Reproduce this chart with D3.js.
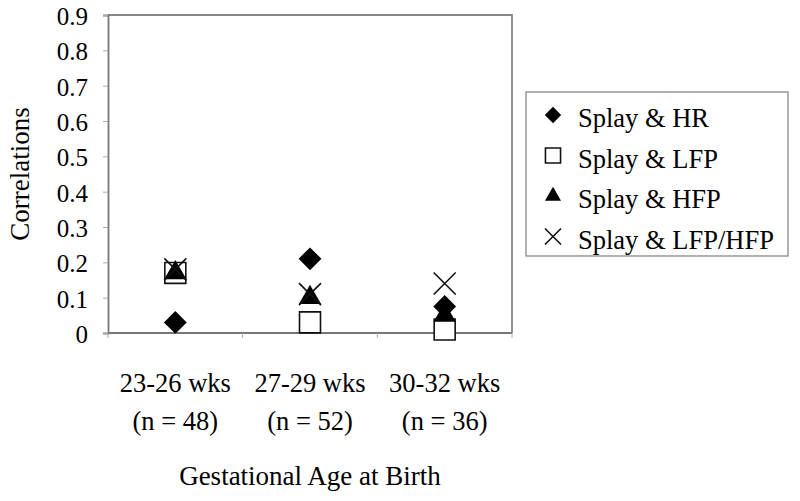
<!DOCTYPE html>
<html>
<head>
<meta charset="utf-8">
<script src="https://cdn.jsdelivr.net/npm/d3@7"></script>
<style>
  body { margin: 0; background: #fff; }
  svg { display: block; }
</style>
</head>
<body>
<div id="chart"></div>
<script>
// values
let categories = ["23-26 wks", "27-29 wks", "30-32 wks"];
let sampleSizes = ["(n = 48)", "(n = 52)", "(n = 36)"];
let seriesNames = ["Splay & HR", "Splay & LFP", "Splay & HFP", "Splay & LFP/HFP"];
let hr = [0.03, 0.21, 0.075];
let lfp = [0.17, 0.03, 0.01];
let hfp = [0.17, 0.10, 0.05];
let lfpHfp = [0.18, 0.11, 0.14];
let yTicks = [0, 0.1, 0.2, 0.3, 0.4, 0.5, 0.6, 0.7, 0.8, 0.9];

let series = [
    {name: seriesNames[0], values: hr, kind: "diamond"},
    {name: seriesNames[1], values: lfp, kind: "square"},
    {name: seriesNames[2], values: hfp, kind: "triangle"},
    {name: seriesNames[3], values: lfpHfp, kind: "times"}
];

let width = 800, height = 501;
let pLeft = 108, pRight = 512, pTop = 15, pBottom = 333;
let serif = '"Liberation Serif", "Times New Roman", serif';

let svg = d3.select("#chart").append("svg")
    .attr("width", width)
    .attr("height", height)
    .attr("font-family", serif);

let x = d3.scaleBand().domain(categories).range([pLeft, pRight]).padding(0);
let y = d3.scaleLinear().domain([0, 0.9]).range([pBottom, pTop]);

// marker shapes, big for the plot and small for the legend
function markerPath(kind, big) {
    let s = big ? 1 : 0.72;
    if (kind == "diamond") return d3.symbol(d3.symbolSquare, 260 * s * s)();
    if (kind == "square") return d3.symbol(d3.symbolSquare, 440 * s * s)();
    if (kind == "triangle") return d3.symbol(d3.symbolTriangle, 215 * s * s)();
    return d3.symbol(d3.symbolTimes, (big ? 318 : 170))();
}

function drawMarker(g, kind, big) {
    let p = g.append("path").attr("d", markerPath(kind, big));
    if (kind == "diamond") p.attr("transform", "rotate(45)").attr("fill", "#000");
    else if (kind == "square") p.attr("fill", "#fff").attr("stroke", "#111").attr("stroke-width", 1.6);
    else if (kind == "triangle") p.attr("fill", "#000");
    else p.attr("fill", "none").attr("stroke", "#111").attr("stroke-width", 1.6);
}

function txt(sel, size) {
    return sel.style("font-family", serif).style("font-size", size + "px").attr("fill", "#000");
}

// frame
svg.append("path")
    .attr("d", `M${pLeft},${pTop}H${pRight}V${pBottom}`)
    .attr("fill", "none")
    .attr("stroke", "#888")
    .attr("stroke-width", 1.8);

// y axis
let yAxis = svg.append("g")
    .attr("transform", `translate(${pLeft},0)`)
    .call(d3.axisLeft(y)
        .tickValues(yTicks)
        .tickSize(5)
        .tickPadding(15)
        .tickFormat(d => d === 0 ? "0" : d3.format(".1f")(d)));
yAxis.attr("font-family", serif);
yAxis.select(".domain").attr("stroke", "#777").attr("stroke-width", 1.8);
yAxis.selectAll(".tick line").attr("stroke", "#aaa");
txt(yAxis.selectAll(".tick text"), 25).attr("dy", "0.38em");

// x axis: line plus ticks at category boundaries
svg.append("line")
    .attr("x1", pLeft).attr("x2", pRight)
    .attr("y1", pBottom).attr("y2", pBottom)
    .attr("stroke", "#777").attr("stroke-width", 1.8);

let bounds = categories.map(c => x(c)).concat([pRight]);
svg.selectAll(".xtick").data(bounds).enter().append("line")
    .attr("class", "xtick")
    .attr("x1", d => d).attr("x2", d => d)
    .attr("y1", pBottom).attr("y2", pBottom + 5)
    .attr("stroke", "#aaa");

let xlab = txt(svg.selectAll(".xlab").data(categories).enter().append("text"), 26.5)
    .attr("class", "xlab")
    .attr("text-anchor", "middle");
xlab.append("tspan")
    .attr("x", d => x(d) + x.bandwidth() / 2)
    .attr("y", 392)
    .text(d => d);
xlab.append("tspan")
    .attr("x", d => x(d) + x.bandwidth() / 2)
    .attr("y", 430)
    .text((d, i) => sampleSizes[i]);

txt(svg.append("text"), 27)
    .attr("x", (pLeft + pRight) / 2)
    .attr("y", 485)
    .attr("text-anchor", "middle")
    .text("Gestational Age at Birth");

txt(svg.append("text"), 27)
    .attr("transform", `translate(29,${(pTop + pBottom) / 2}) rotate(-90)`)
    .attr("text-anchor", "middle")
    .text("Correlations");

// points
series.forEach(function(s){
    s.values.forEach(function(v, i){
        let g = svg.append("g")
            .attr("transform", `translate(${x(categories[i]) + x.bandwidth() / 2},${y(v)})`);
        drawMarker(g, s.kind, true);
    });
});

// legend
let legend = svg.append("g");
legend.append("rect")
    .attr("x", 526).attr("y", 92)
    .attr("width", 262).attr("height", 164)
    .attr("fill", "#fff")
    .attr("stroke", "#888")
    .attr("stroke-width", 1.3);

series.forEach(function(s, i){
    let row = legend.append("g").attr("transform", `translate(0,${118 + i * 40.5})`);
    let m = row.append("g").attr("transform", "translate(553,-3)");
    drawMarker(m, s.kind, false);
    txt(row.append("text"), 26.5)
        .attr("x", 578)
        .attr("y", 9)
        .text(s.name);
});
</script>
</body>
</html>
